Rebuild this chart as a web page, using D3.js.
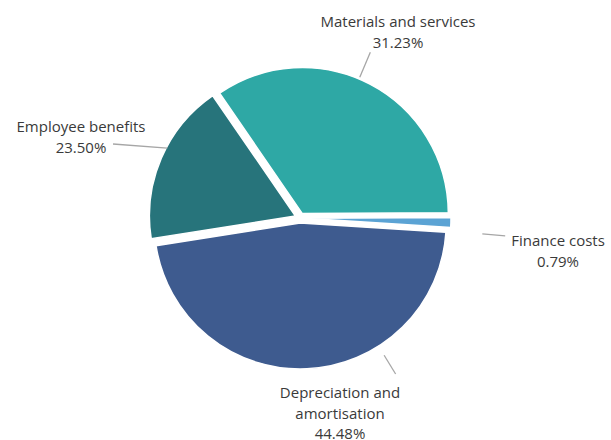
<!DOCTYPE html>
<html>
<head>
<meta charset="utf-8">
<script src="https://cdn.jsdelivr.net/npm/d3@7"></script>
<style>
  html, body { margin: 0; padding: 0; background: #ffffff; }
  svg { display: block; }
</style>
</head>
<body>
<div id="chart"></div>
<script>
// ---- data ----
const categories = ["Materials and services", "Finance costs", "Depreciation and amortisation", "Employee benefits"];
// slice shares as drawn in the picture (estimated from arc angles)
const sliceShares = [34.5, 1.1, 46.5, 17.9];
// percentages printed in the labels
const labelPercents = ["31.23%", "0.79%", "44.48%", "23.50%"];
const labelLines = [["Materials and services"], ["Finance costs"], ["Depreciation and", "amortisation"], ["Employee benefits"]];

// ---- style / layout ----
const colors = ["#2ea8a5", "#5ba3d4", "#3e5b8f", "#27747b"];
const W = 611, H = 440;
const cx = 300, cy = 218, R = 146, explode = 5;
const startDeg = -34.5;
// label layout: leader angle (deg, clockwise from top), leader radii, label anchor
const labelLayout = [
  { ang: 23,  r0: 153, r1: 180, tx: 398, ty: 27,  ex: null },
  { ang: 95,  r0: 183, r1: 206, tx: 558, ty: 246, ex: null },
  { ang: 148.5, r0: 161, r1: 183, tx: 340, ty: 398, ex: null },
  { ang: 297.8, r0: 150, r1: 0, tx: 81, ty: 132, ex: [113, 144] }
];
const lineHeight = 20.5;

const svg = d3.select("#chart").append("svg")
  .attr("width", W).attr("height", H);

const pie = d3.pie().sort(null).value(d => d)
  .startAngle(startDeg * Math.PI / 180)
  .endAngle((startDeg + 360) * Math.PI / 180);
const arcs = pie(sliceShares);
const arc = d3.arc().innerRadius(0).outerRadius(R);

const g = svg.append("g").attr("transform", `translate(${cx},${cy})`);

g.selectAll("path.slice").data(arcs).enter().append("path")
  .attr("class", "slice")
  .attr("d", arc)
  .attr("fill", (d, i) => colors[i])
  .attr("stroke", "#ffffff")
  .attr("stroke-width", 1.5)
  .attr("transform", d => {
    const m = (d.startAngle + d.endAngle) / 2;
    return `translate(${explode * Math.sin(m)},${-explode * Math.cos(m)})`;
  });

// leader lines
const pt = (deg, r) => [cx + r * Math.sin(deg * Math.PI / 180), cy - r * Math.cos(deg * Math.PI / 180)];
labelLayout.forEach((L, i) => {
  const p0 = pt(L.ang, L.r0);
  const p1 = L.ex ? L.ex : pt(L.ang, L.r1);
  svg.append("line")
    .attr("x1", p0[0]).attr("y1", p0[1])
    .attr("x2", p1[0]).attr("y2", p1[1])
    .attr("stroke", "#a6a6a6").attr("stroke-width", 1.3);
});

// labels
labelLayout.forEach((L, i) => {
  const t = svg.append("text")
    .attr("x", L.tx).attr("y", L.ty)
    .attr("text-anchor", "middle")
    .attr("font-family", "'Open Sans', 'Noto Sans', sans-serif")
    .attr("font-size", 15)
    .attr("fill", "#3a3a3a");
  const lines = labelLines[i].concat([labelPercents[i]]);
  lines.forEach((s, k) => {
    t.append("tspan").attr("x", L.tx).attr("dy", k === 0 ? 0 : lineHeight).text(s);
  });
});
</script>
</body>
</html>
